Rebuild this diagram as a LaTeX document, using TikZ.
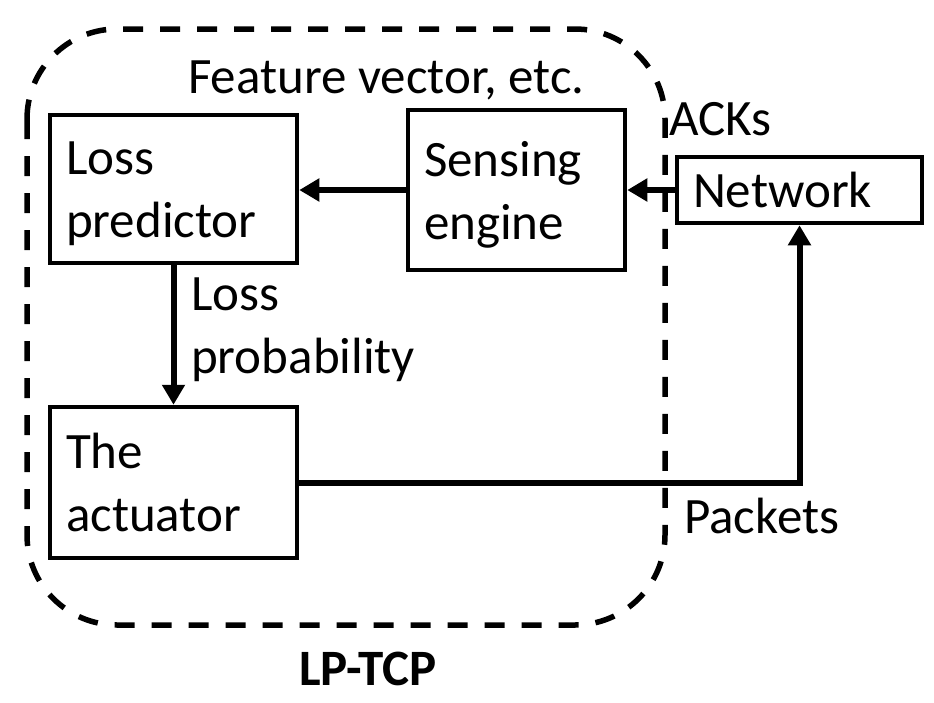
\documentclass[tikz,border=0pt]{standalone}
\usepackage{fontspec}
\setmainfont{Carlito}
\usetikzlibrary{arrows.meta}
\newcommand\firstln{\rule{0pt}{34pt}}
\newcommand\lastln[1]{\raisebox{0pt}[0pt][0pt]{#1}}
\begin{document}
\begin{tikzpicture}[x=1pt,y=-1pt,
  every node/.style={font=\fontsize{51}{63}\selectfont},
  blk/.style={draw, line width=4.5pt, align=left, inner xsep=16pt, inner ysep=0pt},
  lbl/.style={inner sep=0pt},
  conn/.style={line width=6pt, -{Triangle[length=20pt,width=22pt]}},
  zone/.style={line width=5.5pt, dash pattern=on 20pt off 17pt, rounded corners=90pt}]
\useasboundingbox (0,0) rectangle (934,702);
\fill[white] (0,0) rectangle (934,702);
% LP-TCP zone
\draw[zone] (27,29) rectangle (665,625);
% blocks
\node[blk, text width=215pt, minimum height=148pt] (lp) at (173.5,189) {\firstln Loss\\\lastln{predictor}};
\node[blk, text width=185pt, minimum height=160pt] (sense) at (516.5,190) {\firstln Sensing\\\lastln{engine}};
\node[blk, text width=213pt, minimum height=66pt] (net) at (799.5,190) {\firstln Network};
\node[blk, text width=215pt, minimum height=151pt] (act) at (173.5,482.5) {\firstln The\\\lastln{actuator}};
% labels
\node[lbl, anchor=base west] (feat) at (188,93) {Feature vector, etc.};
\node[lbl, anchor=base west] (acks) at (669,135) {ACKs};
\node[lbl, anchor=west, align=left] (lprob) at (191,324.5) {\firstln Loss\\\lastln{probability}};
\node[lbl, anchor=base west] (pkts) at (684,533) {Packets};
\node[lbl, anchor=base, font=\fontsize{51}{63}\selectfont\bfseries] (title) at (368,685) {LP-TCP};
% connectors
\draw[conn] (sense.west) -- (sense.west -| lp.east);
\draw[conn] (net.west) -- (net.west -| sense.east);
\draw[conn] (lp.south) -- (act.north);
\draw[conn] (act.east) -| (net.south);
\end{tikzpicture}
\end{document}
